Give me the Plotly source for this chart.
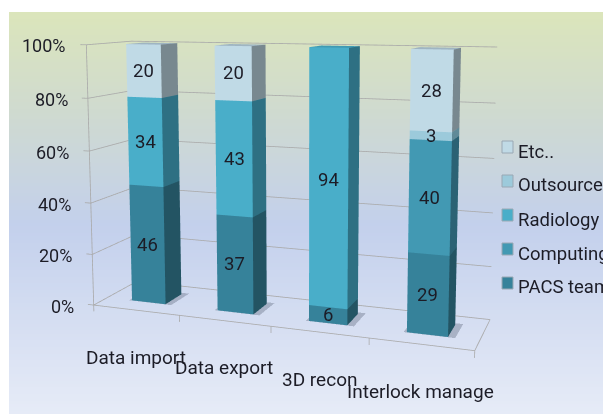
import numpy as np
import plotly.graph_objects as go

categories = ["Data import", "Data export", "3D recon", "Interlock manage"]
series_names = ["PACS team", "Computing", "Radiology", "Outsource", "Etc.."]
pacs_team = [46, 37, 6, 29]
computing = [0, 0, 0, 40]
radiology = [34, 43, 94, 0]
outsource = [0, 0, 0, 3]
etc_other = [20, 20, 0, 28]
percent_ticks = [0, 20, 40, 60, 80, 100]

series_values = [pacs_team, computing, radiology, outsource, etc_other]
front_colors = ["#36829A", "#4299B3", "#49AEC9", "#9CCADB", "#C0DAE6"]
side_colors = ["#235463", "#2B6274", "#2E7083", "#5F8A98", "#78888F"]
top_colors = ["#2F7387", "#3A889F", "#3F9AB3", "#8AB3C2", "#9FB5C2"]
legend_tops = [277, 243, 209, 175, 141]
legend_text_y = [287, 254, 220, 185, 152]

TEXT = "#1C1C26"
FONT = "Roboto"
GRID = "#A9A9A9"
BAR_LO, BAR_HI = 0.3, 0.7
DEPTH_LO, DEPTH_HI = 0.3, 0.7

# The scene is taller than the window and lifted so its lens gives long, nearly parallel verticals.
PAGE_W, SCENE_H, LIFT = 603, 803, 277


def paper_y(px):
    return 1 - (px + LIFT) / SCENE_H


fig = go.Figure()

# Panel backdrop: pale green at the top fading through blue to near white.
rows = np.linspace(0, 1, 120)
fig.add_trace(go.Heatmap(
    z=[[r] for r in rows], y=rows, x=[0], showscale=False, hoverinfo="skip",
    zmin=0, zmax=1,
    colorscale=[[0, "#E6EBF7"], [0.47, "#C3D0EC"], [0.75, "#CFDAD0"], [1, "#DBE5BB"]],
    xaxis="x", yaxis="y",
))


def box_mesh(x0, x1, y0, y1, z0, z1):
    xs = [x0, x1, x1, x0, x0, x1, x1, x0]
    ys = [y0, y0, y1, y1, y0, y0, y1, y1]
    zs = [z0, z0, z0, z0, z1, z1, z1, z1]
    return xs, ys, zs


FACES = [(0, 1, 5), (0, 5, 4), (1, 2, 6), (1, 6, 5), (4, 5, 6), (4, 6, 7)]
FLAT = dict(ambient=1, diffuse=0, specular=0, fresnel=0, roughness=1)

# Soft contact shadow on the floor, one per column.
for c in range(len(categories)):
    xs, ys, zs = box_mesh(c + BAR_LO - 0.03, c + BAR_HI + 0.07, DEPTH_LO - 0.01, DEPTH_HI + 0.05, 0.05, 0.05)
    fig.add_trace(go.Mesh3d(
        x=xs, y=ys, z=zs, i=[4, 4], j=[5, 6], k=[6, 7], color="#7A8499", opacity=0.5,
        flatshading=True, lighting=FLAT, hoverinfo="skip", showlegend=False,
    ))

# Stacked columns: each segment sits on the running total of the ones below.
labels = []
for c in range(len(categories)):
    base = 0
    for s, values in enumerate(series_values):
        v = values[c]
        if v == 0:
            continue
        xs, ys, zs = box_mesh(c + BAR_LO, c + BAR_HI, DEPTH_LO, DEPTH_HI, base, base + v)
        fig.add_trace(go.Mesh3d(
            x=xs, y=ys, z=zs,
            i=[f[0] for f in FACES], j=[f[1] for f in FACES], k=[f[2] for f in FACES],
            facecolor=[front_colors[s]] * 2 + [side_colors[s]] * 2 + [top_colors[s]] * 2,
            flatshading=True, lighting=FLAT, hoverinfo="skip", showlegend=False,
            name=series_names[s],
        ))
        labels.append(dict(
            x=c + 0.5, y=DEPTH_LO, z=base + v / 2, text=str(v), showarrow=False,
            font=dict(family=FONT, size=18.5, color=TEXT),
        ))
        base += v


def segments(pairs):
    xs, ys, zs = [], [], []
    for a, b in pairs:
        xs += [a[0], b[0], None]
        ys += [a[1], b[1], None]
        zs += [a[2], b[2], None]
    return xs, ys, zs


n = len(categories)
pairs = []
for t in percent_ticks:
    pairs.append(((-0.07, 0, t), (0, 0, t)))
    pairs.append(((0, 0, t), (0, 1, t)))
    pairs.append(((0, 1, t), (n, 1, t)))
pairs.append(((0, 0, 0), (0, 0, 100)))
pairs += [((0, 0, 0), (n, 0, 0)), ((n, 0, 0), (n, 1, 0))]
for c in range(n + 1):
    pairs.append(((c, 0, 0), (c, 0, -2.5)))
gx, gy, gz = segments(pairs)
fig.add_trace(go.Scatter3d(
    x=gx, y=gy, z=gz, mode="lines", line=dict(color=GRID, width=1.6),
    hoverinfo="skip", showlegend=False, connectgaps=False,
))

for t in percent_ticks:
    labels.append(dict(
        x=0, y=0, z=t, text=f"{t}%", showarrow=False, xanchor="right", xshift=-18, yshift=-1,
        font=dict(family=FONT, size=18, color=TEXT),
    ))
for c, name in enumerate(categories):
    labels.append(dict(
        x=c + 0.5, y=0, z=0, text=name, showarrow=False, yshift=-47,
        font=dict(family=FONT, size=19, color=TEXT),
    ))

hidden = dict(visible=False)
PAD_X, PAD_Y, PAD_Z = 0.2, 0.2, 6
ASPECT = np.array([1.0, 0.2307, 0.6827])
eye = np.array([0.8392, -2.2581, 0.4539])
gaze = np.array([-0.3314, 0.9349, -0.1273])
center = eye + 2.0 * gaze

scene = dict(
    domain=dict(x=[0, 1], y=[0, 1]),
    bgcolor="rgba(0,0,0,0)",
    xaxis=dict(range=[-PAD_X, n + PAD_X], **hidden),
    yaxis=dict(range=[-PAD_Y, 1 + PAD_Y], **hidden),
    zaxis=dict(range=[-PAD_Z, 100 + PAD_Z], **hidden),
    aspectmode="manual",
    aspectratio=dict(
        x=ASPECT[0] * (n + 2 * PAD_X) / n,
        y=ASPECT[1] * (1 + 2 * PAD_Y),
        z=ASPECT[2] * (100 + 2 * PAD_Z) / 100,
    ),
    camera=dict(
        projection=dict(type="perspective"),
        up=dict(x=0, y=0, z=1),
        eye=dict(x=eye[0], y=eye[1], z=eye[2]),
        center=dict(x=center[0], y=center[1], z=center[2]),
    ),
    annotations=labels,
)

# Legend, drawn in pixel space so the entries can run off the right edge.
shapes, notes = [], []
for s, name in enumerate(series_names):
    shapes.append(dict(
        type="rect", xref="paper", yref="paper",
        x0=502 / PAGE_W, x1=513 / PAGE_W, y0=paper_y(legend_tops[s] + 12), y1=paper_y(legend_tops[s]),
        fillcolor=front_colors[s], line=dict(color="#9AA8B4", width=1),
    ))
    notes.append(dict(
        xref="paper", yref="paper", x=516 / PAGE_W, y=paper_y(legend_text_y[s]), text=name,
        xanchor="left", yanchor="middle", showarrow=False,
        font=dict(family=FONT, size=18.5, color=TEXT),
    ))

fig.update_layout(
    width=PAGE_W, height=SCENE_H, margin=dict(l=0, r=0, t=0, b=0),
    paper_bgcolor="rgba(0,0,0,0)", plot_bgcolor="rgba(0,0,0,0)", showlegend=False,
    xaxis=dict(visible=False, domain=[9 / PAGE_W, 1]),
    yaxis=dict(visible=False, domain=[paper_y(414), paper_y(12)]),
    scene=scene, shapes=shapes, annotations=notes,
)

lift_page = (
    "var gd = document.querySelector('.plotly-graph-div');"
    f"gd.style.marginTop = '-{LIFT}px';"
    "document.documentElement.style.overflow = 'hidden';"
    "document.body.style.overflow = 'hidden';"
)
fig.write_html("out.html", config=dict(displayModeBar=False), post_script=lift_page)
